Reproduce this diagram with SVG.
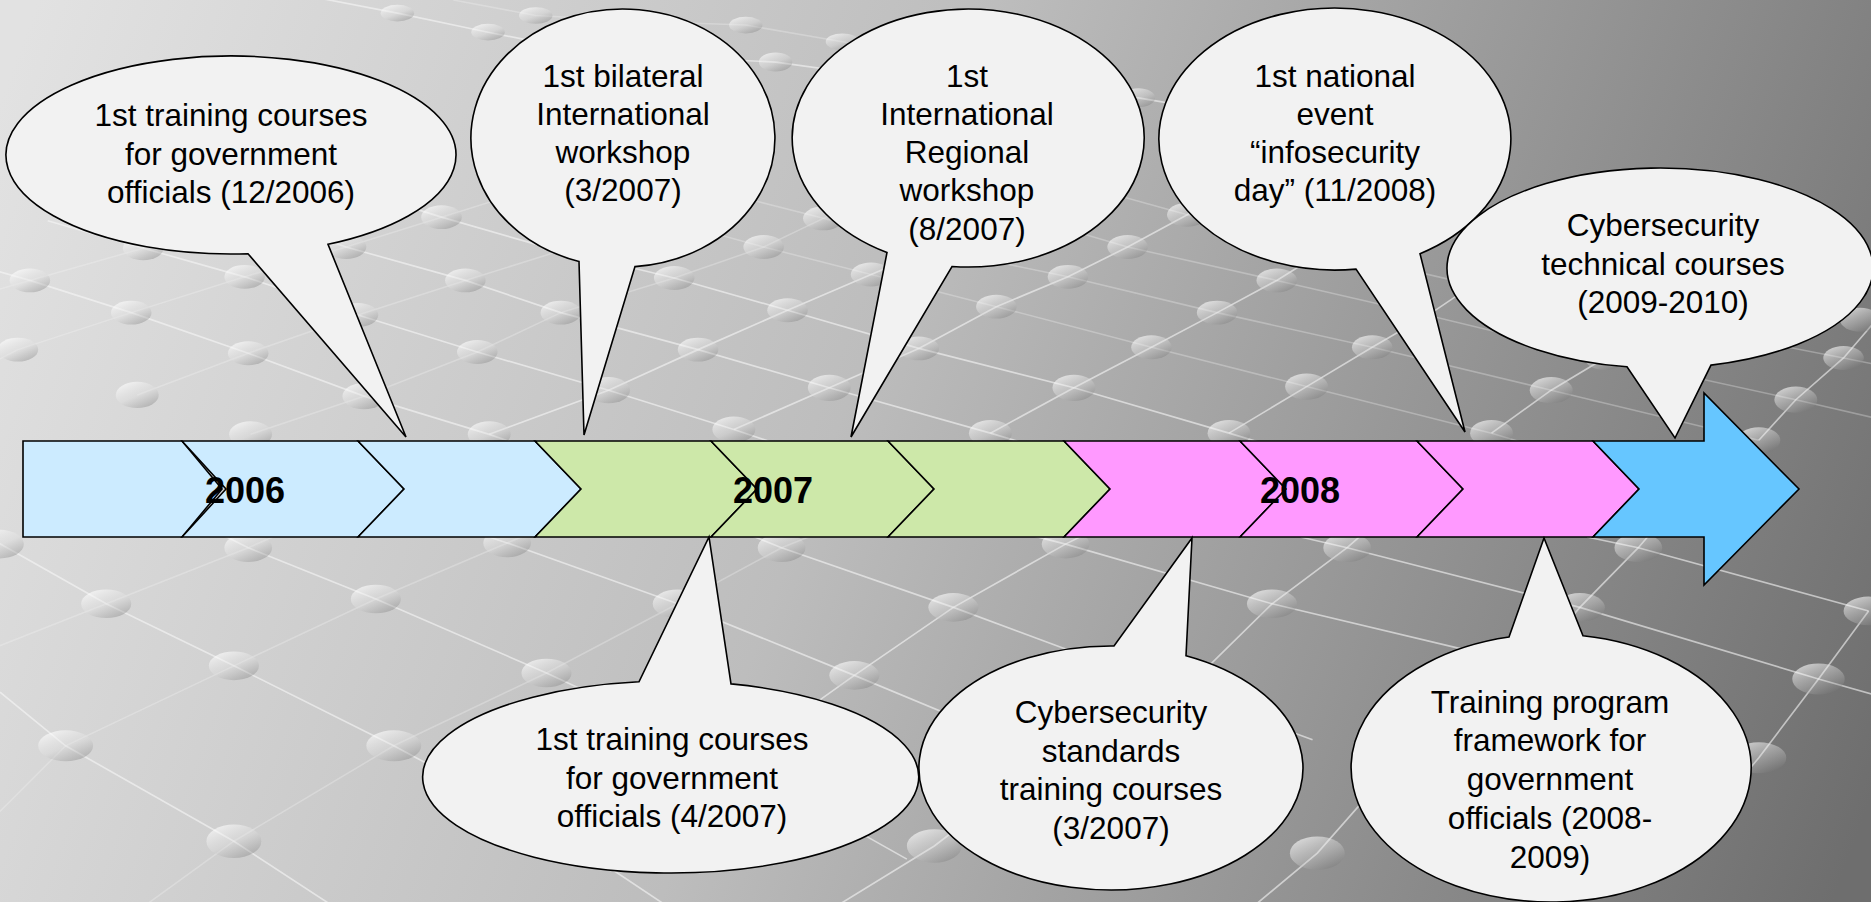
<svg xmlns="http://www.w3.org/2000/svg" width="1871" height="902" viewBox="0 0 1871 902">
<defs>
<linearGradient id="bg" gradientUnits="userSpaceOnUse" x1="0" y1="100" x2="1871" y2="800">
<stop offset="0" stop-color="#e2e2e2"/>
<stop offset="0.45" stop-color="#bdbdbd"/>
<stop offset="1" stop-color="#6e6e6e"/>
</linearGradient>
<linearGradient id="dotg" x1="0.2" y1="0.1" x2="0.8" y2="0.95">
<stop offset="0" stop-color="#ffffff" stop-opacity="0.6"/>
<stop offset="0.5" stop-color="#e0e0e0" stop-opacity="0.35"/>
<stop offset="1" stop-color="#707070" stop-opacity="0.35"/>
</linearGradient>
<style>
.ln{fill:none;stroke:#f6f6f6;stroke-opacity:0.6;stroke-width:1.4}
.lf{fill:none;stroke:#f6f6f6;stroke-opacity:0.3;stroke-width:1.3}
.d{fill:url(#dotg)}
.seg{stroke:#000;stroke-width:1.6;stroke-linejoin:miter}
.c1{fill:#ccebff}
.c2{fill:#cde8a9}
.c3{fill:#ff99ff}
.c4{fill:#66c6ff}
.bub{fill:#f2f2f2;stroke:#000;stroke-width:1.6;stroke-linejoin:miter}
.bt{font-family:"Liberation Sans",Arial,sans-serif;font-size:31.5px;fill:#000;text-anchor:middle}
.yr{font-family:"Liberation Sans",Arial,sans-serif;font-size:36px;font-weight:bold;fill:#000;text-anchor:middle}
</style>
</defs>
<rect x="0" y="0" width="1871" height="902" fill="url(#bg)"/>
<g id="background-pattern" transform="scale(1.19324)">
<polyline class="lf" points="-10,306 15,293 110,262 205,232 290,207 370,182 450,157 540,130"/>
<polyline class="lf" points="-10,245 25,235 120,208 205,182 290,158"/>
<polyline class="lf" points="115,331 208,296 300,264 390,235 470,210 550,185"/>
<polyline class="lf" points="210,364 305,332 400,295 470,262 565,233 640,207 690,183 740,160"/>
<polyline class="ln" points="410,364 510,327 585,293 660,260 730,230 790,205"/>
<polyline class="ln" points="615,360 695,325 770,292 835,257 895,232 945,207 995,180 1040,150"/>
<polyline class="ln" points="830,363 900,325 965,291 1020,262 1070,235 1110,210 1150,180"/>
<polyline class="ln" points="1030,363 1095,324 1150,291 1200,262 1240,235"/>
<polyline class="ln" points="1250,363 1300,327 1345,300 1390,270 1420,245"/>
<polyline class="ln" points="1474,369 1505,335 1545,300 1575,265"/>
<polyline class="ln" points="-10,225 25,235 110,262 208,296 305,332 410,364 470,385"/>
<polyline class="ln" points="40,185 120,208 205,232 300,264 400,295 510,327 615,360 660,375"/>
<polyline class="ln" points="210,180 290,207 390,235 470,262 585,293 695,325 830,363 870,375"/>
<polyline class="ln" points="300,160 370,182 450,205 565,233 660,260 770,292 900,325 1030,363 1070,375"/>
<polyline class="lf" points="560,185 640,207 730,230 835,257 965,291 1095,324 1250,363 1290,375"/>
<polyline class="lf" points="620,165 690,183 790,210 895,232 1020,262 1150,291 1300,327 1474,369"/>
<polyline class="lf" points="870,185 945,207 1070,235 1200,265 1345,300 1505,335 1570,350"/>
<polyline class="lf" points="930,162 995,180 1110,210 1240,240 1390,270 1545,300 1570,305"/>
<polyline class="ln" points="250,-5 333,11 409,27 500,45 650,52 780,70 954,82 1060,100"/>
<polyline class="lf" points="380,0 449,13 540,18 625,21 706,35 800,50"/>
<polyline class="ln" points="-10,450 89,506 196,558 330,625 470,700 560,760"/>
<polyline class="ln" points="150,430 208,459 315,502 458,564 600,630 760,720"/>
<polyline class="ln" points="380,440 425,455 568,506 716,566 870,630 1000,690"/>
<polyline class="ln" points="0,580 55,625 196,705 280,760"/>
<polyline class="ln" points="620,445 655,459 799,509 950,565 1100,620"/>
<polyline class="ln" points="850,445 893,456 1066,506 1230,545 1400,590"/>
<polyline class="ln" points="1090,450 1129,459 1324,509 1524,569 1570,582"/>
<polyline class="ln" points="1330,450 1373,459 1566,512"/>
<polyline class="lf" points="-10,690 55,625 196,558 315,502 425,455 460,440"/>
<polyline class="lf" points="120,760 196,705 330,625 458,564 568,506 655,459 690,445"/>
<polyline class="lf" points="-10,545 89,506 208,459 240,445"/>
<polyline class="ln" points="640,620 716,566 799,509 893,456 915,445"/>
<polyline class="ln" points="700,760 783,709 860,650"/>
<polyline class="ln" points="950,620 1066,506 1129,459 1145,445"/>
<polyline class="ln" points="1230,620 1324,509 1373,459 1385,445"/>
<polyline class="ln" points="1420,700 1474,635 1524,569 1566,512"/>
<polyline class="ln" points="1050,760 1104,715 1170,640"/>
<ellipse class="d" cx="333" cy="11" rx="14" ry="7"/>
<ellipse class="d" cx="409" cy="27" rx="14" ry="7"/>
<ellipse class="d" cx="449" cy="13" rx="14" ry="7"/>
<ellipse class="d" cx="625" cy="21" rx="14" ry="7"/>
<ellipse class="d" cx="650" cy="52" rx="14" ry="8"/>
<ellipse class="d" cx="706" cy="35" rx="14" ry="7"/>
<ellipse class="d" cx="954" cy="82" rx="14" ry="8"/>
<ellipse class="d" cx="25" cy="235" rx="17" ry="10"/>
<ellipse class="d" cx="120" cy="208" rx="17" ry="10"/>
<ellipse class="d" cx="205" cy="232" rx="17" ry="10"/>
<ellipse class="d" cx="290" cy="207" rx="17" ry="10"/>
<ellipse class="d" cx="370" cy="182" rx="17" ry="10"/>
<ellipse class="d" cx="110" cy="262" rx="17" ry="10"/>
<ellipse class="d" cx="208" cy="296" rx="17" ry="10"/>
<ellipse class="d" cx="15" cy="293" rx="17" ry="10"/>
<ellipse class="d" cx="115" cy="331" rx="18" ry="11"/>
<ellipse class="d" cx="305" cy="332" rx="18" ry="11"/>
<ellipse class="d" cx="390" cy="235" rx="17" ry="10"/>
<ellipse class="d" cx="300" cy="264" rx="17" ry="10"/>
<ellipse class="d" cx="400" cy="295" rx="17" ry="10"/>
<ellipse class="d" cx="510" cy="327" rx="18" ry="11"/>
<ellipse class="d" cx="410" cy="364" rx="18" ry="11"/>
<ellipse class="d" cx="210" cy="364" rx="18" ry="11"/>
<ellipse class="d" cx="565" cy="233" rx="17" ry="10"/>
<ellipse class="d" cx="640" cy="207" rx="17" ry="10"/>
<ellipse class="d" cx="690" cy="183" rx="17" ry="10"/>
<ellipse class="d" cx="470" cy="262" rx="17" ry="10"/>
<ellipse class="d" cx="585" cy="293" rx="17" ry="10"/>
<ellipse class="d" cx="660" cy="260" rx="17" ry="10"/>
<ellipse class="d" cx="730" cy="230" rx="17" ry="10"/>
<ellipse class="d" cx="695" cy="325" rx="18" ry="11"/>
<ellipse class="d" cx="835" cy="257" rx="17" ry="10"/>
<ellipse class="d" cx="770" cy="292" rx="17" ry="10"/>
<ellipse class="d" cx="615" cy="360" rx="18" ry="11"/>
<ellipse class="d" cx="830" cy="363" rx="18" ry="11"/>
<ellipse class="d" cx="895" cy="232" rx="17" ry="10"/>
<ellipse class="d" cx="945" cy="207" rx="17" ry="10"/>
<ellipse class="d" cx="995" cy="180" rx="17" ry="10"/>
<ellipse class="d" cx="1070" cy="235" rx="17" ry="10"/>
<ellipse class="d" cx="1020" cy="262" rx="17" ry="10"/>
<ellipse class="d" cx="965" cy="291" rx="17" ry="10"/>
<ellipse class="d" cx="900" cy="325" rx="18" ry="11"/>
<ellipse class="d" cx="1150" cy="291" rx="17" ry="10"/>
<ellipse class="d" cx="1095" cy="324" rx="18" ry="11"/>
<ellipse class="d" cx="1030" cy="363" rx="18" ry="11"/>
<ellipse class="d" cx="1300" cy="327" rx="18" ry="11"/>
<ellipse class="d" cx="1250" cy="363" rx="18" ry="11"/>
<ellipse class="d" cx="1505" cy="335" rx="18" ry="11"/>
<ellipse class="d" cx="1545" cy="300" rx="17" ry="10"/>
<ellipse class="d" cx="1345" cy="300" rx="17" ry="10"/>
<ellipse class="d" cx="1474" cy="369" rx="18" ry="11"/>
<ellipse class="d" cx="1559" cy="268" rx="17" ry="10"/>
<ellipse class="d" cx="208" cy="459" rx="20" ry="12"/>
<ellipse class="d" cx="425" cy="455" rx="20" ry="12"/>
<ellipse class="d" cx="655" cy="459" rx="20" ry="12"/>
<ellipse class="d" cx="0" cy="456" rx="20" ry="12"/>
<ellipse class="d" cx="89" cy="506" rx="21" ry="12"/>
<ellipse class="d" cx="315" cy="502" rx="21" ry="12"/>
<ellipse class="d" cx="568" cy="506" rx="21" ry="12"/>
<ellipse class="d" cx="196" cy="558" rx="21" ry="12"/>
<ellipse class="d" cx="458" cy="564" rx="21" ry="12"/>
<ellipse class="d" cx="716" cy="566" rx="21" ry="12"/>
<ellipse class="d" cx="55" cy="625" rx="23" ry="13"/>
<ellipse class="d" cx="330" cy="625" rx="23" ry="13"/>
<ellipse class="d" cx="196" cy="705" rx="23" ry="14"/>
<ellipse class="d" cx="783" cy="709" rx="23" ry="14"/>
<ellipse class="d" cx="893" cy="456" rx="20" ry="12"/>
<ellipse class="d" cx="1129" cy="459" rx="20" ry="12"/>
<ellipse class="d" cx="1373" cy="459" rx="20" ry="12"/>
<ellipse class="d" cx="799" cy="509" rx="21" ry="12"/>
<ellipse class="d" cx="1066" cy="506" rx="21" ry="12"/>
<ellipse class="d" cx="1324" cy="509" rx="21" ry="12"/>
<ellipse class="d" cx="1566" cy="512" rx="21" ry="12"/>
<ellipse class="d" cx="1524" cy="569" rx="22" ry="13"/>
<ellipse class="d" cx="1474" cy="635" rx="23" ry="13"/>
<ellipse class="d" cx="1104" cy="715" rx="23" ry="14"/>
</g>
<g id="timeline-bar">
<path class="seg c1" d="M23,441 H182 L222,489 L182,537 H23 Z"/>
<path class="seg c1" d="M182,441 H358 L404,489 L358,537 H182 L226,489 Z"/>
<path class="seg c1" d="M358,441 H535 L581,489 L535,537 H358 L404,489 Z"/>
<path class="seg c2" d="M535,441 H711 L757,489 L711,537 H535 L581,489 Z"/>
<path class="seg c2" d="M711,441 H888 L934,489 L888,537 H711 L757,489 Z"/>
<path class="seg c2" d="M888,441 H1064 L1110,489 L1064,537 H888 L934,489 Z"/>
<path class="seg c3" d="M1064,441 H1240 L1286,489 L1240,537 H1064 L1110,489 Z"/>
<path class="seg c3" d="M1240,441 H1417 L1463,489 L1417,537 H1240 L1286,489 Z"/>
<path class="seg c3" d="M1417,441 H1593 L1639,489 L1593,537 H1417 L1463,489 Z"/>
<path class="seg c4" d="M1593,441 H1704 V393 L1799,489 L1704,585 V537 H1593 L1639,489 Z"/>
<text class="yr" x="245" y="503">2006</text>
<text class="yr" x="773" y="503">2007</text>
<text class="yr" x="1300" y="503">2008</text>
</g>
<g id="callout-1">
<path class="bub" d="M328,244.3 A225 99 0 1 0 248,253.7 L406,437 Z"/>
<text class="bt" x="231" y="126">1st training courses</text>
<text class="bt" x="231" y="165">for government</text>
<text class="bt" x="231" y="203">officials (12/2006)</text>
</g>
<g id="callout-2">
<path class="bub" d="M635,266.6 A152 129 0 1 0 579,261.5 L584,435 Z"/>
<text class="bt" x="623" y="87">1st bilateral</text>
<text class="bt" x="623" y="125">International</text>
<text class="bt" x="623" y="163">workshop</text>
<text class="bt" x="623" y="201">(3/2007)</text>
</g>
<g id="callout-3">
<path class="bub" d="M952,266.5 A176 129 0 1 0 887,252.5 L851,437 Z"/>
<text class="bt" x="967" y="87">1st</text>
<text class="bt" x="967" y="125">International</text>
<text class="bt" x="967" y="163">Regional</text>
<text class="bt" x="967" y="201">workshop</text>
<text class="bt" x="967" y="240">(8/2007)</text>
</g>
<g id="callout-4">
<path class="bub" d="M1420,253.7 A176 131 0 1 0 1356,269.1 L1465,432 Z"/>
<text class="bt" x="1335" y="87">1st national</text>
<text class="bt" x="1335" y="125">event</text>
<text class="bt" x="1335" y="163">“infosecurity</text>
<text class="bt" x="1335" y="201">day” (11/2008)</text>
</g>
<g id="callout-5">
<path class="bub" d="M1711,365.1 A213 100 0 1 0 1627,366.8 L1675,438 Z"/>
<text class="bt" x="1663" y="236">Cybersecurity</text>
<text class="bt" x="1663" y="275">technical courses</text>
<text class="bt" x="1663" y="313">(2009-2010)</text>
</g>
<g id="callout-6">
<path class="bub" d="M639,681.8 A248 96 0 1 0 731,683.9 L709,537 Z"/>
<text class="bt" x="672" y="750">1st training courses</text>
<text class="bt" x="672" y="789">for government</text>
<text class="bt" x="672" y="827">officials (4/2007)</text>
</g>
<g id="callout-7">
<path class="bub" d="M1114,646 A192 122 0 1 0 1186,655.7 L1192,538 Z"/>
<text class="bt" x="1111" y="723">Cybersecurity</text>
<text class="bt" x="1111" y="762">standards</text>
<text class="bt" x="1111" y="800">training courses</text>
<text class="bt" x="1111" y="839">(3/2007)</text>
</g>
<g id="callout-8">
<path class="bub" d="M1509,637 A200 134 0 1 0 1583,635.7 L1544,538 Z"/>
<text class="bt" x="1550" y="713">Training program</text>
<text class="bt" x="1550" y="751">framework for</text>
<text class="bt" x="1550" y="790">government</text>
<text class="bt" x="1550" y="829">officials (2008-</text>
<text class="bt" x="1550" y="868">2009)</text>
</g>
</svg>
